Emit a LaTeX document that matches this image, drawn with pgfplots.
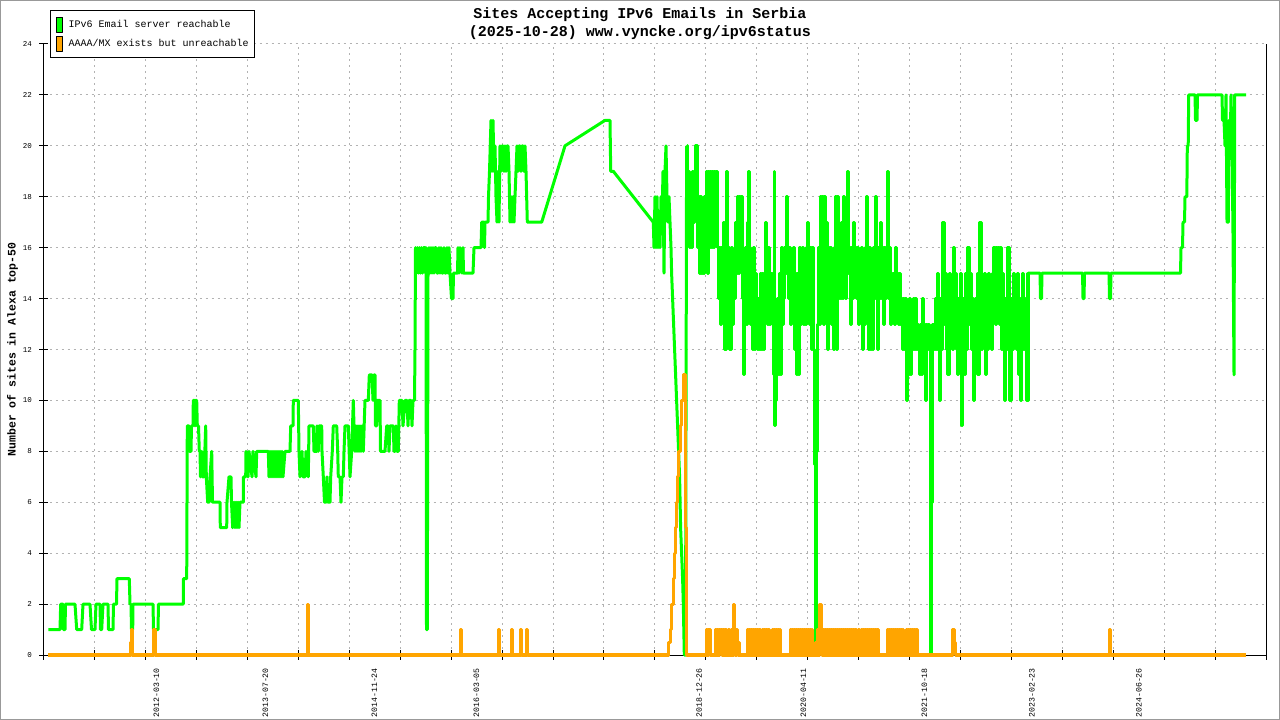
\documentclass[border=0pt]{standalone}
\usepackage{fontspec}
\setmainfont{Liberation Mono}
\usepackage{pgfplots}
\pgfplotsset{compat=1.18}
\definecolor{ipgreen}{RGB}{0,255,0}
\definecolor{iporange}{RGB}{255,165,0}
\begin{document}
\begin{tikzpicture}
\useasboundingbox (0,0) rectangle (1280bp,720bp);
\fill[white] (0,0) rectangle (1280bp,720bp);
\draw[gray!80, line width=1.2bp] (0.6bp,0.6bp) rectangle (1279.4bp,719.4bp);
\begin{axis}[
  at={(43.7bp,65bp)}, anchor=south west,
  scale only axis, width=1222.4bp, height=611bp,
  xmin=43.7, xmax=1266.1, ymin=0, ymax=24,
  clip=false,
  axis x line*=bottom, axis y line*=left,
  axis line style={black, line width=1bp},
  tick style={black, line width=1bp},
  tick align=center, major tick length=9bp,
  xtick={43.7,94.63,...,1266.1},
  xticklabels={},
  ytick={0,2,...,24},
  xmajorgrids, ymajorgrids,
  major grid style={gray!60, line width=1bp, dash pattern=on 2bp off 4bp},
  /pgf/number format/assume math mode=true,
  yticklabel style={font=\fontsize{7.5bp}{9bp}\selectfont, inner xsep=0bp, xshift=-7bp},
  extra x ticks={156.3,265.3,374.3,476.3,699.2,803.3,924.5,1031.8,1138.8},
  extra x tick labels={2012-03-10,2013-07-20,2014-11-24,2016-03-05,2018-12-26,2020-04-11,2021-10-18,2023-02-23,2024-06-26},
  extra x tick style={grid=none, major tick length=0pt,
    xticklabel style={rotate=90, anchor=east, inner xsep=13bp, font=\fontsize{8.2bp}{9bp}\selectfont}},
  ylabel={Number of sites in Alexa top-50},
  ylabel style={at={(axis description cs:-0.02553,0.5)}, anchor=center, font=\bfseries\fontsize{11.5bp}{13bp}\selectfont},
  legend style={at={(0.00515,1.0556)}, anchor=north west, draw=black, line width=1bp, fill=white,
    font=\fontsize{10bp}{12bp}\selectfont, inner xsep=5bp, inner ysep=6bp, row sep=3bp,
    nodes={inner sep=0.5bp}, column sep=5bp},
  legend cell align=left,
  greenline/.style={color=ipgreen, line width=3bp, line join=round},
]
\addplot[greenline,
  legend image code/.code={\draw[black, line width=1bp, fill=ipgreen] (0bp,-7.5bp) rectangle (6.7bp,7.5bp);}]
coordinates {
(48.3,1)(60,1)(60.7,2)(63,2)(63.5,1)(65,1)(65.5,2)(75,2)(76.7,1)(81.7,1)(83,2)(90,2)(91.5,1)(95,1)(96,2)(100,2)(100.5,1)(101.7,1)(103,2)(108,2)(108.5,1)(113,1)(113.5,2)(116.5,2)(117,3)(129.3,3)(130,2)(131,2)(131.5,1)(132.7,1)(133,2)(153,2)(153.5,1)(158,1)(158.5,2)(183.3,2)(183.5,3)(186.7,3)(187.3,9)
(189,9)(189.5,8)(191,8)(191.5,9)(193,9)(193.3,10)(194.5,10)(195,9)(195.5,10)(196.7,10)(197.3,9)(198.5,9)(199.3,8)(200,8)(200.5,7)(201.7,8)(202.5,7)(204,7)(205.7,9)(206.3,7)(207.7,6)(209,6)(210,7)(211.7,8)(212.5,6)(220,6)(220.3,5)(226.7,5)(227,6)(229,7)(231,7)(231.5,6)(232.7,5)(234,6)(235,5)(236,6)(237,5)(238,6)(239,5)(240,6)(243.3,6)(243.5,7)(245.7,7)(246,8)(248,7)(249,8)(252,7)(253,8)(256,7)(256.7,8)(268.3,8)(269,7)(270,8)(271,7)(272,8)(273,7)(274,8)(275,7)(276,8)(277,7)(278,8)(279,7)(280,8)(281,7)(282,8)(283,7)(285,8)(290,8)(290.7,9)(293,9)(293.3,10)(298.3,10)(299,8)(300,7)(302,8)(303,7)(305,7)(306,8)(308.3,7)(309,9)(313.3,9)(314,8)(316.7,8)(317,9)(318.3,8)(319,9)(321.7,9)(322,8)(323.3,7)(324.5,6)(326,6)(327,7)(328,6)(330,6)(330.7,7)(332.3,8)(333.3,9)(336.7,9)(337.7,8)(338.3,7)(340,7)(341,6)(342,7)(343.3,7)(344,8)(345,9)(348.3,9)(350,7)(351.7,8)(353.3,10)(354,9)(355,8)(356,9)(357,8)(358,9)(359,8)(360,9)(361,8)(362,9)(363.3,8)(365,10)(368.3,10)(369.3,11)(372,11)(373,10)(374,11)(375,11)(375.5,9)(376.7,9)(377,10)(380,10)(380.5,8)(385,8)(386.7,9)(388,9)(389,8)(390,9)(393.3,9)(394,8)(395,8)(396,9)(397,8)(398.3,8)(399.3,10)(402,10)(403,9)(405,10)(407,10)(408,9)(409,10)(411,10)(412,9)(413,10)(414.5,10)(415,12)(415.5,16)(416.5,15)(417.5,16)(418.5,15)(419.5,16)(420.5,15)(421.5,16)(422.5,15)(423.5,16)(425,16)(425.5,15)(426,16)(426.5,1)(427.3,1)(428,15)(429,16)(430,15)(431,16)(432,15)(433,16)(434,15)(435,16)(436,16)(437,15)(438,15)(439,16)(440,15)(441,16)(442,15)(443,15)(444,16)(445,15)(446,15)(447,16)(448,15)(449,16)(450,15)(451.5,14)(453,14)(453.5,15)(457.5,15)(458,16)(459,15)(460,16)(462,15)(463,16)(463.5,15)(473,15)(474,16)(481,16)(481.7,17)(484,17)(484.5,16)(485,17)(488,17)(488.5,18)(489.5,19)(491,21)(492,19)(493,21)(494,19)(495,20)(496,18)(497,17)(498,19)(499,17)(500,20)(501,19)(502,20)(503,20)(504,19)(505,20)(506,19)(507,20)(508,20)(509,19)(510,17)(511,18)(512,17)(513,18)(514,17)(515,18)(516,19)(517,20)(518,19)(519,20)(520,20)(521,19)(522,20)(523,20)(524,19)(525,20)(526,19)(527.3,17)(541.7,17)(565,20)(605,21)(610,21)(610.7,19)(613.3,19)(653.3,17)
(654,16)(655,18)(656,16)(657,18)(658,16)(659,17)(660,16)(661,18)(662,17)(663,19)(664,15)(665,19)(666,20)(667,18)(668,17)(669,18)(670,17)(671,16)(671.6,15)(672.6,14)(673.6,13)(674.6,12)(675.6,11)(676.6,10)(677.6,9)(678.6,8)(679.6,7)(680.6,5)(681.6,4)(682.6,3)(683.3,2)(684.3,0)(685.5,0)(686,9)(686.6,20)
};
\addlegendentry{IPv6 Email server reachable}
\addplot[greenline, const plot, forget plot]
coordinates {
(686.6,20)(687.5,18)(688.5,19)(689.5,16)(690.5,18)(691.5,16)(692.5,19)(693.5,17)(694.5,18)(695.3,20)(696.3,20)(697,16)(698,18)(699,15)(700,18)(701,15)(702,17)(703,15)(704,18)(705,16)(706,19)(707,15)(708,19)(709,16)(710,19)(711,16)(712,19)(713,16)(714,19)(715,17)(716,19)(717,16)
(718,14)(719,16)(720,13)(721,16)(722,14)(723,17)(724,12)(725,12)(726,19)(727,14)(728,16)(729,12)(730,12)(731,16)(732,13)(733,15)(734,14)(735,17)(736,15)(737,18)(738,15)(739,18)(740,16)(741,18)(742,14)(743,11)(744,13)(745,16)(746,13)(747,17)(748,19)(749,16)(750,13)(751,15)(752,12)(753,16)(754,12)(755,15)(756,13)(757,12)(758,14)(759,12)(760,15)(761,12)(762,15)(763,12)(764,14)(765,17)(766,15)(767,13)(768,16)(769,13)(770,14)(771,15)(772,13)(773,11)(774,19)(774.5,9)(775,10)(776,11)(777,14)(778,11)(779,15)(780,11)(781,16)(782,13)(783,14)(784,16)(785,15)(786,18)(787,16)(788,14)(789,16)(790,13)(791,15)(792,14)(793,16)(794,12)(795,15)(796,11)(797,15)(798,11)(799,16)(800,13)(801,14)(802,16)(803,13)(804,15)(805,13)(806,16)(807,17)(808,16)(809,13)(810,16)(811,12)(812,16)(813,12)(814,7.5)(815,0)(816,8)(817,13)(818,16)(819,13)(820,18)(821,14)(822,18)(823,13)(824,18)(825,14)(826,17)(827,12)(828,16)(829,14)(830,16)(831,13)(832,15)(833,12)(834,16)(835,18)(836,12)(837,18)(838,14)(839,15)(840,14)(841,17)(842,14)(843,18)(844,15)(845,14)(846,17)(847,19)(848,15)(849,16)(850,13)(851,16)(852,14)(853,17)(854,15)(855,16)(856,14)(857,16)(858,13)(859,15)(860,14)
(861,16)(862,12)(863,15)(864,13)(865,16)(866,18)(867,14)(868,12)(869,16)(870,12)(871,15)(872,12)(873,16)(874,14)(875,18)(876,15)(877,12)(878,16)(879,14)(880,17)(881,14)(882,16)(883,13)(884,16)(885,14)(886,15)(887,19)(888,14)(889,16)(890,13)(891,15)(892,14)(893,15)(894,13)(895,16)(896,14)(897,15)(898,13)(899,15)(900,13)
(901,14)(902,12)(903,14)(904,12)(905,14)(906,11)(906.5,10)(907,13)(908,11)(909,14)(910,11)(911,13)(912,12)(913,14)(914,12)(915,14)(916,12)(917,13)(918,12)(919,11)(920,13)(921,11)(922,14)(923,12)(924,13)(925,12)(925.5,10)(926.5,13)(927.5,12)(928.5,13)(929.5,12)(930.5,0)(931.5,6)(932.5,13)
(934,12)(935,14)(936,12)(937,15)(938,13)(939,14)(939.5,10)(940.5,14)(941.5,12)(942.8,17)(944,13)(945,15)(946,12)(947,14)(947.8,11)(949,15)(950,13)(951,14)(952,12)(953,16)(954,13)(955,15)(956,12)(957,11)(958,14)(959,12)(960,15)(961,12)(961.5,9)(962.5,12)(963.5,14)(964.5,11)(965.5,15)(966.5,12)(967.8,16)(969,13)(970,15)(971,12)(972,14)(973,10)(974,13)(975,14)(976,12)(977,15)(977.8,11)(979,16)(979.8,17)(981,12)(982,14)(983,13)(984,15)(985.5,11)(986.5,14)(987.5,12)(988.5,15)(989.5,13)(990.5,14)(991.5,12)(992.5,15)(993.8,16)(995,13)(996,16)(997,14)(998,16)(999,13)(1000.5,16)(1001.5,12)(1002.5,15)(1003.5,13)(1004.5,10)(1005.5,14)(1006.5,12)(1007.8,16)(1009,13)(1009.8,10)(1011,14)(1012,12)(1013,15)(1014,13)(1015,14)(1016,12)(1017,15)(1018,11)(1019,14)(1020.5,10)(1021.5,13)(1022.5,15)(1023.5,12)(1024.5,14)(1025.5,12)(1026,10)(1027,15)(1027.5,10)(1028,15)
};
\addplot[greenline, forget plot]
coordinates {
(1028,15)(1040,15)(1040.5,14)(1041.5,14)(1042,15)(1082.5,15)(1083,14)(1084,14)(1084.5,15)(1109,15)(1109.5,14)(1110.5,14)(1111,15)(1180.5,15)(1181,16)(1182.5,16)(1183,17)(1184.5,17)(1185,18)(1186.8,18)(1187.3,20)(1188.2,20)(1188.7,22)(1195,22)(1195.5,21)(1197,21)(1197.5,22)(1222,22)(1222.5,21)(1224,21)(1225,20)(1226,22)(1227,17)(1228.3,17)(1229,21)(1230,19.5)(1231,22)(1232,20)(1233,16.5)(1234,11)(1234.7,22)(1246,22)
};
\addplot[color=iporange, line width=3bp, line join=round, const plot,
  legend image code/.code={\draw[black, line width=1bp, fill=iporange] (0bp,-7.5bp) rectangle (6.7bp,7.5bp);}]
coordinates {
(48,0)(130,0.5)(131,1)(132.5,0)(153.5,1)(155,0)(307,2)(308,1)(308.5,0)(460,1)(461,0)(498,1)(499,0)(511,1)(512,0)(520.5,1)(521.5,0)(526.5,1)(527.5,0)
(668,0.5)(670,1)(671.6,2)(673.3,3)(674.3,4)(675.3,5)(676.6,6)(677.6,7)(678.6,8)(680,9)(681.6,10)(683.3,11)(685,5)(686.6,0)
(706,1)(707,0)(708,1)(709,0.5)(709.5,1)(710,0)
(715,1)(716,0)(717,1)(718,0)(719,1)(720,0.5)(721,1)(722,0)(723,1)(724,0)(725,1)(726,0)(728,1)(729,0)(731,1)(732,0)(733,2)(734.3,1)(735,0)(736,1)(737,0.5)(738,0)(739,0.5)(739.5,0)
(747,1)(748,0)(749,1)(750,0)(751,1)(752,0)(753,1)(754,0)(755,1)(756,0)(757,1)(758,0)(759,1)(760,0)(762,1)(763,0)(764,1)(765,0)(766,1)(767,0)(768,1)(769,0)(772,1)(773,0)(774,1)(775,0)(776,1)(777,0)(778,1)(779,0)(780,1)(780.5,0)
(790,1)(791,0)(792,1)(793,0)(794,1)(795,0)(796,1)(797,0)(798,1)(799,0)(800,1)(801,0)(802,1)(803,0)(804,1)(805,0)(806,1)(807,0)(808,1)(809,0)(810,1)(811,0)(812,1)(812.5,0)
(815,0.5)(816,0)
(817,1)(818,0)(819,1)(819.5,2)(821.5,1)(822,0)(823,1)(824,0)(825,1)(826,0)(827,1)(828,0)(829,1)(830,0)(831,1)(832,0)(833,1)(834,0)(835,1)(836,0)(837,1)(838,0)(839,1)(840,0)(841,1)(842,0)(843,1)(844,0)(845,1)(846,0)(847,1)(848,0)(849,1)(850,0)(851,1)(852,0)(853,1)(854,0)(855,1)(856,0)(858,1)(859,0)(861,1)(862,0)(863,1)(864,0)(865,1)(866,0)(867,1)(868,0)(869,1)(870,0)(871,1)(872,0)(873,1)(874,0)(875,1)(876,0)(877,1)(878,0)
(887,1)(888,0)(889,1)(890,0)(891,1)(892,0)(893,1)(894,0)(895,1)(896,0)(897,1)(898,0)(899,1)(900,0)(901,1)(902,0)(903,1)(903.5,0)
(906,1)(907,0)(908,1)(909,0)(910,1)(911,0)(912,1)(913,0)(914,1)(915,0)(916,1)(917,0)
(952.5,1)(954.5,0.5)(955.5,0)
(1109.3,1)(1110,0.5)(1110.5,0)(1246,0)
};
\addlegendentry{AAAA/MX exists but unreachable}
\draw[black, line width=1bp] (rel axis cs:1,0) -- (rel axis cs:1,1);
\end{axis}
\node[anchor=base, font=\bfseries\fontsize{15bp}{18bp}\selectfont] at (640bp,701.7bp) {Sites Accepting IPv6 Emails in Serbia};
\node[anchor=base, font=\bfseries\fontsize{15bp}{18bp}\selectfont] at (640bp,683.3bp) {(2025-10-28) www.vyncke.org/ipv6status};
\end{tikzpicture}
\end{document}
